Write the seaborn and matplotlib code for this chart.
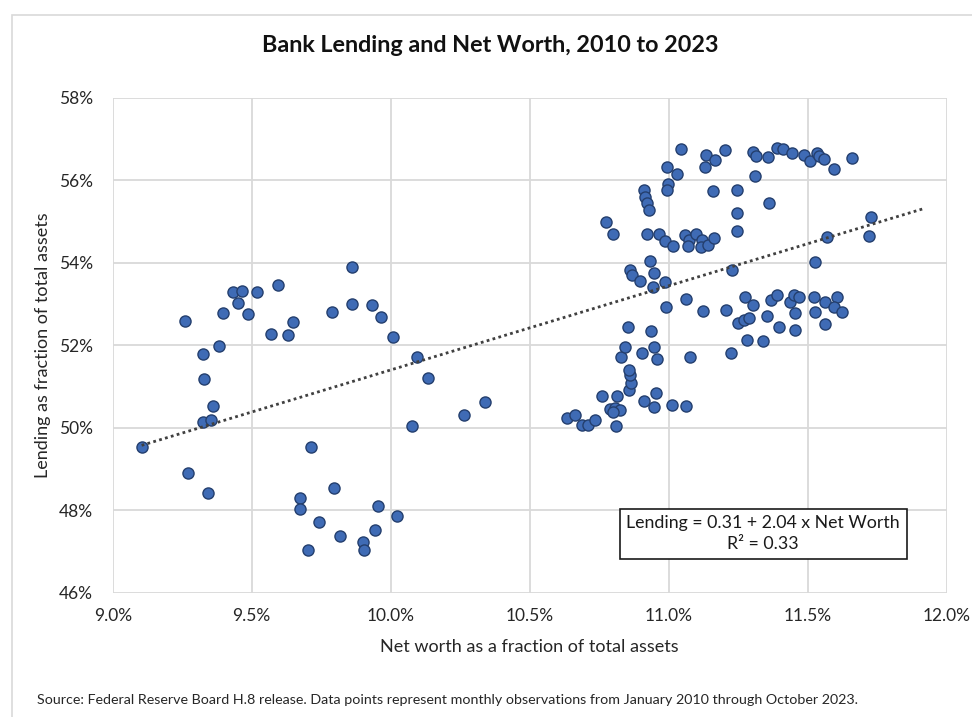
import matplotlib
matplotlib.use("Agg")
import matplotlib.pyplot as plt
import seaborn as sns
import numpy as np
import pandas as pd
from matplotlib.patches import Rectangle
from matplotlib.ticker import FuncFormatter, MultipleLocator

# Net worth as fraction of total assets (%) and lending as fraction of total assets (%)
net_worth = [
    9.104, 9.261, 9.272, 9.324, 9.328, 9.361, 9.325, 9.353, 9.342, 9.383,
    9.395, 9.431, 9.465, 9.452, 9.488, 9.519, 9.594, 9.569, 9.629, 9.648,
    9.714, 9.674, 9.675, 9.742, 9.796, 9.702, 9.816, 9.788, 9.861, 9.860,
    9.931, 9.964, 10.007, 10.095, 10.135, 10.076, 9.953, 10.024, 9.943, 9.901,
    9.905, 10.265, 10.341,
    10.635, 10.663, 10.687, 10.711, 10.735, 10.760, 10.813, 10.790, 10.808, 10.825,
    10.800, 10.812, 10.858, 10.865, 10.862, 10.856, 10.910, 10.946, 10.953, 11.013,
    11.064, 10.829, 10.843, 10.903, 10.946, 10.958, 11.076, 11.224, 10.855, 10.937,
    10.932, 10.862, 10.868, 10.897, 10.947, 10.943, 10.988, 10.990, 11.064, 11.122,
    11.207, 11.229, 11.250,
    10.775, 10.798, 10.922, 10.965, 10.988, 11.015, 11.059, 11.073, 11.068, 11.097,
    11.121, 11.115, 11.143, 11.163, 11.245, 11.246,
    10.910, 10.914, 10.922, 10.930, 10.997, 10.994, 11.160, 11.247,
    11.043, 10.993, 11.031, 11.135, 11.167, 11.129, 11.203, 11.305, 11.313, 11.356,
    11.388, 11.410, 11.444, 11.486, 11.509, 11.533, 11.540, 11.557, 11.594, 11.659,
    11.311, 11.362,
    11.569, 11.729, 11.721, 11.525,
    11.274, 11.304, 11.368, 11.388, 11.436, 11.452, 11.470, 11.521, 11.561, 11.606,
    11.594, 11.624, 11.525, 11.455, 11.352, 11.271, 11.289, 11.395, 11.455, 11.561,
    11.281, 11.340,
]
lending = [
    49.52, 52.58, 48.89, 51.78, 51.18, 50.53, 50.14, 50.19, 48.41, 51.98,
    52.78, 53.30, 53.31, 53.02, 52.76, 53.28, 53.47, 52.27, 52.25, 52.57,
    49.53, 48.30, 48.04, 47.72, 48.54, 47.04, 47.37, 52.81, 53.90, 53.00,
    52.98, 52.69, 52.21, 51.71, 51.21, 50.05, 48.11, 47.85, 47.52, 47.23,
    47.04, 50.32, 50.63,
    50.24, 50.31, 50.07, 50.07, 50.18, 50.78, 50.77, 50.45, 50.48, 50.44,
    50.38, 50.05, 50.92, 51.08, 51.28, 51.41, 50.65, 50.50, 50.85, 50.54,
    50.53, 51.72, 51.96, 51.80, 51.95, 51.67, 51.71, 51.80, 52.45, 52.34,
    54.05, 53.82, 53.70, 53.56, 53.74, 53.41, 53.52, 52.93, 53.11, 52.84,
    52.85, 53.82, 52.53,
    54.98, 54.70, 54.70, 54.70, 54.53, 54.40, 54.67, 54.55, 54.40, 54.70,
    54.55, 54.38, 54.43, 54.59, 55.20, 54.76,
    55.76, 55.60, 55.45, 55.28, 55.90, 55.76, 55.75, 55.76,
    56.75, 56.33, 56.16, 56.61, 56.49, 56.33, 56.73, 56.69, 56.59, 56.57,
    56.77, 56.75, 56.65, 56.61, 56.47, 56.67, 56.59, 56.51, 56.26, 56.53,
    56.10, 55.45,
    54.62, 55.10, 54.65, 54.01,
    53.18, 52.97, 53.10, 53.22, 53.04, 53.22, 53.16, 53.18, 53.05, 53.18,
    52.93, 52.81, 52.81, 52.77, 52.72, 52.61, 52.65, 52.43, 52.37, 52.51,
    52.13, 52.09,
]

# Regression reported in the chart: Lending = 0.31 + 2.04 x Net Worth
intercept = 0.31
slope = 2.04
trend_x = [min(net_worth), 11.92]

title = "Bank Lending and Net Worth, 2010 to 2023"
x_label = "Net worth as a fraction of total assets"
y_label = "Lending as fraction of total assets"
eq_text = "Lending = 0.31 + 2.04 x Net Worth\nR\u00b2 = 0.33"
source = ("Source: Federal Reserve Board H.8 release. Data points represent monthly "
          "observations from January 2010 through October 2023.")

df = pd.DataFrame({"net_worth": net_worth, "lending": lending})

sns.set_theme(style="white")
plt.rcParams["font.family"] = ["Lato", "DejaVu Sans"]

fig = plt.figure(figsize=(9.72, 7.17), dpi=100)
ax = fig.add_axes([112.7 / 972, 1 - 592.7 / 717, (946.7 - 112.7) / 972, (592.7 - 97.7) / 717])

# outer chart frame
fig.patches.append(Rectangle((12 / 972, -0.05), 1.2, 1 - 15 / 717 + 0.05,
                             transform=fig.transFigure, fill=False,
                             edgecolor="#d9d9d9", linewidth=1.2))

ax.grid(True, color="#d9d9d9", linewidth=1.3)
ax.set_axisbelow(True)
for s in ax.spines.values():
    s.set_visible(False)

sns.scatterplot(data=df, x="net_worth", y="lending", ax=ax, s=64,
                color="#3f6bb5", edgecolor="#243f6e", linewidth=1.0, zorder=3)

tx = np.array(trend_x)
ax.plot(tx, intercept * 100 + slope * tx, color="#404040", linewidth=2.0,
        linestyle=(0, (1, 1.2)), zorder=4)

ax.set_xlim(9.0, 12.0)
ax.set_ylim(46, 58)
ax.xaxis.set_major_locator(MultipleLocator(0.5))
ax.yaxis.set_major_locator(MultipleLocator(2))
ax.xaxis.set_major_formatter(FuncFormatter(lambda v, p: f"{v:.1f}%"))
ax.yaxis.set_major_formatter(FuncFormatter(lambda v, p: f"{v:.0f}%"))
ax.tick_params(axis="both", length=0, labelsize=12.5, colors="#262626")
ax.tick_params(axis="x", pad=11)
ax.tick_params(axis="y", pad=14)

ax.set_xlabel(x_label, fontsize=13, color="#262626", labelpad=11)
ax.set_ylabel(y_label, fontsize=13, color="#262626", labelpad=6)

ax.text(11.34, 47.43, eq_text, ha="center", va="center", fontsize=12.8,
        color="#1a1a1a", linespacing=1.35, zorder=5,
        bbox=dict(boxstyle="square,pad=0.38", facecolor="white",
                  edgecolor="#1a1a1a", linewidth=1.2))

fig.text(490 / 972, 1 - 45 / 717, title, ha="center", va="center",
         fontsize=16.8, fontweight="bold", color="#111111")
fig.text(37 / 972, 1 - 700 / 717, source, ha="left", va="center",
         fontsize=10.3, color="#262626")

fig.savefig("out.png", dpi=100, facecolor="white")
